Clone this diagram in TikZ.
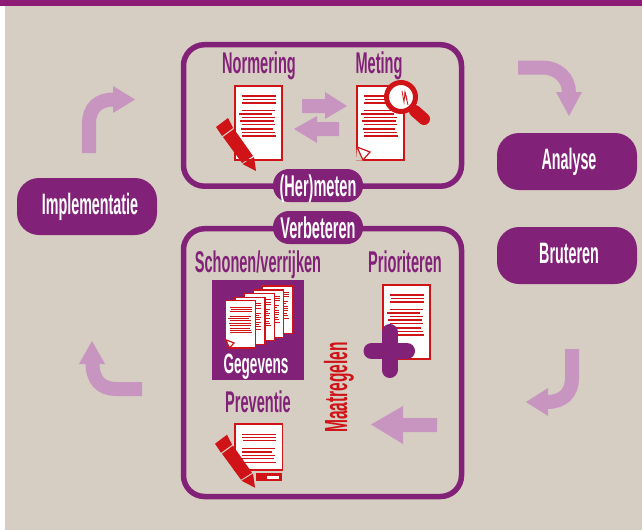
\documentclass[tikz,border=0pt]{standalone}
\usepackage{fontspec}
\newfontfamily\cond[FakeStretch=0.485]{Liberation Sans Bold}
\definecolor{beige}{HTML}{D7CEC3}
\definecolor{topbar}{HTML}{8E1B75}
\definecolor{plum}{HTML}{822178}
\definecolor{lilac}{HTML}{C795BF}
\definecolor{docred}{HTML}{CF1317}
\tikzset{
  x=1pt,y=-1pt,
  frame/.style={draw=plum,line width=5.5pt,rounded corners=21pt},
  pill/.style={fill=plum,rounded corners=22pt},
  tab/.style={fill=plum,rounded corners=16pt},
  head/.style={text=plum,font=\cond\fontsize{30}{30}\selectfont,anchor=base,inner sep=0pt},
  whitelabel/.style={text=white,font=\cond\fontsize{30}{30}\selectfont,anchor=base,inner sep=0pt},
  smalllabel/.style={text=white,font=\cond\fontsize{29.5}{30}\selectfont,anchor=base,inner sep=0pt},
  bendband/.style={draw=lilac,line width=14pt},
  tipfill/.style={fill=lilac},
  sheet/.style={fill=white,draw=docred,line width=1.2pt},
  ink/.style={draw=docred,line width=#1},
  redfill/.style={fill=docred},
}
% sheet with text lines; #1 x, #2 y, #3 scale, #4 height, #5 line width
\newcommand\docsheet[5]{%
  \begin{scope}[shift={(#1,#2)},scale=#3]
    \draw[sheet] (0,0) rectangle (47,#4);
    \foreach \a/\b/\c in {7/41/10,8/41/13.3,7/41/17,7/40/24.7,4/37/28,7/40/31.7,5/39/35,7/40/38.7,6/38/43,7/40/46.3,7/41/50}
      \draw[ink=#5] (\a,\c) -- (\b,\c);
  \end{scope}}
% folded corner; #4 is the colour behind the sheet
\newcommand\docfold[4]{%
  \begin{scope}[shift={(#1,#2)},scale=#3]
    \fill[#4] (0,60.5) -- (6,74.5) -- (-1,74.5) -- cycle;
    \draw[sheet] (0,61) -- (13,66) -- (6,74) -- cycle;
  \end{scope}}
\newcommand\pencilicon[2]{%
  \begin{scope}[shift={(#1,#2)}]
    \fill[redfill] (216,127) -- (228,118) -- (233,128) -- (222,136) -- cycle;
    \fill[redfill] (223,137) -- (234,129) -- (253,156) -- (242,163) -- cycle;
    \fill[redfill] (242.5,164) -- (254,157) -- (256,171) -- cycle;
  \end{scope}}
\begin{document}
\begin{tikzpicture}
\useasboundingbox (0,0) rectangle (642,530);
\fill[white] (0,0) rectangle (642,530);
\fill[beige] (5,6) rectangle (642,530);
\fill[topbar] (0,0) rectangle (642,6);

% frames
\draw[frame] (183.5,44.7) rectangle (461.5,186.2);
\draw[frame] (183.5,228.7) rectangle (461.5,496.5);

% top frame
\node[head] (normering) at (259,73) {Normering};
\node[head] (meting) at (379,73) {Meting};
\docsheet{235}{86}{1}{74}{1.3pt}
\pencilicon{0}{0}
\docsheet{357}{86}{1}{74}{1.3pt}
\docfold{357}{86}{1}{beige}
% magnifier
\draw[docred,line width=12pt,line cap=round] (415,111) -- (424,119);
\draw[fill=white,draw=docred,line width=5pt] (401,97) circle (14.5);
\draw[ink=0.8pt] (402,91) -- (404,102) -- (405,92) -- (408,105);
\draw[ink=0.8pt] (405,92) -- (407,100);
% double arrows
\fill[tipfill] (302,99) -- (325,99) -- (325,92) -- (347,106) -- (325,119) -- (325,113) -- (302,113) -- cycle;
\fill[tipfill] (339,122) -- (317,122) -- (317,116) -- (294,129) -- (317,143) -- (317,136) -- (339,136) -- cycle;

% tabs
\fill[tab] (273,169) rectangle (363,202);
\node[whitelabel] (hermeten) at (318,196) {(Her)meten};
\fill[tab] (273,211) rectangle (363,244);
\node[whitelabel] (verbeteren) at (318,238) {Verbeteren};

% lower frame
\node[head] (schonen) at (258,272) {Schonen/verrijken};
\node[head] (prioriteren) at (405,272) {Prioriteren};
\node[head] (preventie) at (258,412) {Preventie};
\node[text=docred,font=\cond\fontsize{32}{32}\selectfont,rotate=90,anchor=base,inner sep=0pt] (maatregelen) at (347,387.5) {Maatregelen};

% data block
\fill[plum] (212,280) rectangle (304,380);
\docsheet{262.7}{286}{0.64}{74}{1pt}
\docsheet{253.7}{290}{0.64}{74}{1pt}
\docsheet{244.3}{293.5}{0.64}{74}{1pt}
\docsheet{235}{297.3}{0.64}{74}{1pt}
\docsheet{225.7}{300.7}{0.64}{74}{1pt}
\docfold{225.7}{300.7}{0.64}{plum}
\node[whitelabel,font=\cond\fontsize{28}{28}\selectfont] (gegevens) at (256,373) {Gegevens};

% prioritise
\docsheet{383}{285}{1}{74}{1.3pt}
\draw[plum,line width=16pt,line cap=round] (371.5,351) -- (407,351);
\draw[plum,line width=16pt,line cap=round] (389.5,332) -- (389.5,370);

% prevention
\begin{scope}[shift={(235,424)}]
  \draw[sheet] (0,0) rectangle (47.5,46);
  \foreach \a/\b/\c in {7/41/10.3,7/41/13.3,8/41/16.7,7/40/24.3,7/37/28,7/40/31.3,7/39/34.7,7/41/38.3}
    \draw[ink=1.3pt] (\a,\c) -- (\b,\c);
\end{scope}
\pencilicon{-1}{316.7}
\fill[redfill] (256,473) rectangle (282,481);
\fill[white] (267,476) rectangle (279,478.7);
\fill[tipfill] (437,418) -- (403,418) -- (403,406) -- (371,424.5) -- (403,444) -- (403,432) -- (437,432) -- cycle;

% process steps
\fill[pill] (17,178) rectangle (157,235);
\node[smalllabel] (implementatie) at (90,214) {Implementatie};
\fill[pill] (497,133) rectangle (637,190);
\node[smalllabel] (analyse) at (569,169) {Analyse};
\fill[pill] (497,227) rectangle (637,284);
\node[smalllabel] (bruteren) at (569,263) {Bruteren};

% cycle arrows
\draw[bendband] (518,67.5) -- (542,67.5) .. controls (558,67.5) and (569,78) .. (569,93);
\fill[tipfill] (556,92) -- (582,92) -- (569,116) -- cycle;
\draw[bendband] (572,349) -- (572,378) .. controls (572,393) and (563,402) .. (547,402);
\fill[tipfill] (548,388) -- (548,416) -- (526,402) -- cycle;
\draw[bendband] (89,153) -- (89,124) .. controls (89,108) and (98,99.5) .. (114,99.5);
\fill[tipfill] (113,86) -- (135,99.5) -- (113,113) -- cycle;
\draw[bendband] (142,389) -- (116,389) .. controls (101,389) and (92.5,380) .. (92.5,363);
\fill[tipfill] (79,364) -- (92,341) -- (105,364) -- cycle;
\end{tikzpicture}
\end{document}
